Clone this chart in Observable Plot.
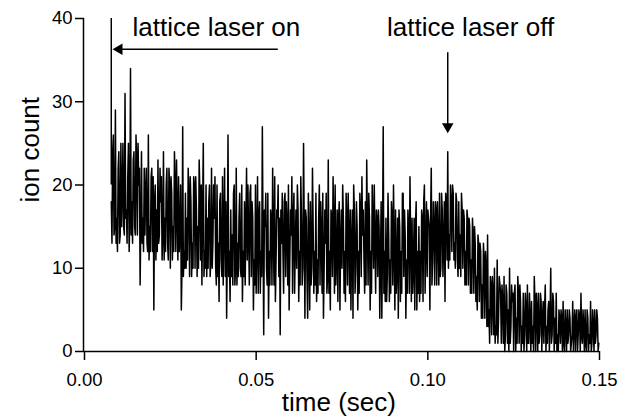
<!DOCTYPE html>
<html><head><meta charset="utf-8">
<script src="https://cdn.jsdelivr.net/npm/d3@7"></script>
<script src="https://cdn.jsdelivr.net/npm/@observablehq/plot@0.6"></script>
<style>body{margin:0;background:#fff} #chart svg{display:block}</style>
</head><body><div id="chart"></div>
<script>
// sampling of the ion-count trace (sec): main samples every dt, in-between samples at dt/2
const t0 = 0.0078, dt = 0.0004;
// ion counts, one block per ~0.01 s (main samples)
const countsA = [18, 24, 14, 29, 16, 22, 13, 25, 19, 15, 31, 17, 21, 12, 34, 18, 23, 15, 26, 14, 20, 8, 24, 16, 22];
const countsB = [19, 13, 26, 15, 21, 12, 5, 20, 17, 23, 14, 18, 11, 24, 16, 20, 13, 22, 10, 19, 15, 24, 12, 17, 21];
const countsC = [14, 5, 27, 12, 19, 16, 22, 9, 18, 13, 21, 10, 17, 15, 23, 11, 8, 25, 12, 20, 16, 18, 9, 22, 13];
const countsD = [16, 10, 20, 13, 18, 11, 21, 15, 9, 4, 26, 12, 17, 14, 19, 8, 22, 13, 16, 10, 20, 12, 18, 15, 11];
const countsE = [14, 19, 9, 16, 11, 20, 13, 7, 18, 12, 27, 2, 15, 10, 19, 12, 17, 8, 14, 21, 11, 16, 9, 2, 13];
const countsF = [12, 18, 9, 15, 20, 11, 14, 7, 19, 13, 10, 17, 12, 21, 8, 25, 4, 16, 4, 13, 18, 10, 15, 12, 19];
const countsG = [11, 16, 8, 14, 19, 10, 13, 7, 23, 12, 17, 9, 15, 20, 11, 6, 18, 13, 10, 16, 12, 19, 8, 14, 17];
const countsH = [13, 4, 17, 10, 15, 12, 19, 9, 14, 11, 18, 23, 8, 16, 12, 20, 10, 13, 17, 9, 15, 11, 4, 27, 12];
const countsI = [16, 9, 14, 11, 18, 8, 13, 17, 10, 4, 15, 12, 19, 9, 14, 11, 17, 7, 13, 16, 10, 5, 18, 12, 15];
const countsJ = [12, 17, 6, 20, 13, 9, 16, 5, 22, 11, 15, 18, 8, 14, 19, 10, 17, 13, 6, 18, 24, 14, 20, 12, 19];
const countsK = [13, 19, 11, 18, 14, 19, 10, 16, 12, 17, 8, 15, 11, 16, 7, 13, 9, 14, 6, 12, 8, 13, 4, 10, 14];
const countsL = [5, 9, 2, 7, 10, 3, 11, 4, 8, 1, 6, 9, 2, 7, 5, 10, 3, 6, 0, 8, 4, 9, 1, 6, 3];
const countsM = [7, 2, 5, 8, 1, 4, 6, 3, 9, 0, 5, 7, 2, 6, 4, 1, 8, 3, 5, 0, 10, 2, 6, 4, 7];
const countsN = [2, 5, 1, 4, 6, 0, 3, 5, 2, 4, 1, 6, 3, 0, 5, 2, 4, 7, 1, 3, 5, 0, 4, 2, 6, 1, 3, 5, 2, 4, 1];
// in-between samples
const halfA = [13, 26, 15, 13, 12, 24, 14, 15, 25, 14, 16, 13, 25, 16, 14, 13, 24, 14, 23, 25, 22, 15, 13, 12, 14];
const halfB = [22, 12, 11, 12, 22, 21, 18, 11, 12, 13, 22, 21, 14, 11, 12, 22, 11, 20, 21, 11, 12, 20, 23, 11, 12];
const halfC = [20, 10, 9, 10, 10, 11, 19, 21, 9, 10, 20, 21, 9, 10, 19, 20, 17, 9, 10, 9, 10, 20, 11, 10, 20];
const halfD = [21, 8, 9, 6, 19, 9, 8, 22, 18, 12, 9, 6, 9, 8, 20, 10, 8, 9, 19, 9, 6, 9, 8, 22, 20];
const halfE = [8, 20, 18, 5, 8, 7, 21, 16, 7, 9, 14, 17, 19, 8, 4, 8, 16, 22, 8, 6, 17, 20, 16, 17, 19];
const halfF = [7, 19, 18, 8, 5, 17, 21, 16, 7, 17, 20, 6, 8, 16, 10, 15, 17, 9, 19, 5, 8, 22, 7, 8, 6];
const halfG = [7, 20, 18, 7, 4, 17, 19, 9, 7, 5, 16, 21, 7, 8, 17, 16, 5, 17, 20, 7, 6, 16, 19, 7, 5];
const halfH = [17, 20, 7, 18, 5, 7, 17, 21, 17, 7, 8, 15, 19, 5, 7, 16, 20, 7, 16, 17, 4, 18, 13, 7, 6];
const halfI = [6, 19, 6, 7, 16, 20, 5, 7, 16, 17, 6, 7, 19, 17, 4, 7, 15, 21, 6, 7, 16, 15, 5, 7, 6];
const halfJ = [7, 16, 18, 7, 18, 17, 15, 16, 8, 18, 8, 17, 18, 8, 9, 19, 9, 18, 19, 11, 10, 11, 18, 20, 11];
const halfK = [10, 18, 9, 10, 9, 17, 17, 8, 8, 16, 16, 7, 7, 14, 15, 6, 5, 13, 13, 4, 4, 11, 12, 3, 3];
const halfL = [1, 8, 9, 2, 1, 2, 1, 9, 7, 8, 1, 0, 8, 1, 0, 1, 8, 7, 7, 0, 1, 7, 8, 0, 1];
const halfM = [0, 7, 0, 1, 7, 0, 1, 0, 6, 7, 0, 1, 7, 0, 6, 5, 0, 1, 6, 4, 1, 7, 0, 1, 0];
const halfN = [0, 4, 5, 0, 1, 5, 0, 1, 5, 0, 2, 0, 5, 4, 0, 5, 0, 2, 5, 0, 1, 5, 0, 1, 0, 5, 0, 1, 5, 0];

const xTicks = [0, 0.05, 0.10, 0.15];
const yTicks = [0, 10, 20, 30, 40];
const noteLabels = ["lattice laser on", "lattice laser off"];
const noteTimes = [0.0140, 0.0881];
const laserOnTime = 0.0078;
const laserOffTime = 0.1058;

const mainCounts = [].concat(countsA, countsB, countsC, countsD, countsE, countsF, countsG,
  countsH, countsI, countsJ, countsK, countsL, countsM, countsN);
const halfCounts = [].concat(halfA, halfB, halfC, halfD, halfE, halfF, halfG,
  halfH, halfI, halfJ, halfK, halfL, halfM, halfN);
const series = [];
mainCounts.forEach((c, i) => {
  series.push({time: t0 + i * dt, count: c});
  if (i < halfCounts.length) series.push({time: t0 + (i + 0.5) * dt, count: halfCounts[i]});
});
const notes = noteLabels.map((label, i) => ({label, time: noteTimes[i], count: 38.9}));

const chart = Plot.plot({
  width: 624, height: 416,
  marginLeft: 84, marginRight: 25, marginTop: 18, marginBottom: 65,
  style: {fontFamily: "'Liberation Sans', Arial, sans-serif", color: "black", background: "white", overflow: "visible"},
  x: {domain: [0, 0.15]},
  y: {domain: [0, 40]},
  marks: [
    Plot.axisX({ticks: xTicks, tickFormat: d3.format(".2f"), tickSize: 9, tickPadding: 12, fontSize: 18.5, label: null, strokeWidth: 1.5}),
    Plot.axisY({ticks: yTicks, tickSize: 9, tickPadding: 3, fontSize: 18.5, label: null, strokeWidth: 1.5}),
    Plot.ruleY([0], {strokeWidth: 1.5}),
    Plot.ruleX([0], {y1: 0, y2: 40, strokeWidth: 1.5, dx: -1}),
    Plot.line(series, {x: "time", y: "count", stroke: "black", strokeWidth: 1.5}),
    // laser-on marker and arrow
    Plot.ruleX([laserOnTime], {y1: 20, y2: 40, strokeWidth: 1.5}),
    Plot.link([0], {x1: 0.0563, x2: 0.0101, y1: 36.3, y2: 36.3, strokeWidth: 1.5}),
    Plot.dot([0], {x: 0.0101, y: 36.3, symbol: "triangle", r: 4.3, rotate: -90, fill: "black", stroke: null}),
    // laser-off arrow
    Plot.link([0], {x1: laserOffTime, x2: laserOffTime, y1: 35.95, y2: 27.2, strokeWidth: 1.5}),
    Plot.dot([0], {x: laserOffTime, y: 27.03, symbol: "triangle", r: 4.3, rotate: 180, fill: "black", stroke: null}),
    Plot.text(notes, {x: "time", y: "count", text: "label", textAnchor: "start", fontSize: 26}),
    Plot.text(["time (sec)"], {x: 0.0741, frameAnchor: "bottom", dy: 59, fontSize: 26}),
    Plot.text(["ion count"], {y: 17.9, frameAnchor: "left", dx: -54, rotate: -90, fontSize: 26})
  ]
});
document.getElementById("chart").appendChild(chart);
</script>
</body></html>
